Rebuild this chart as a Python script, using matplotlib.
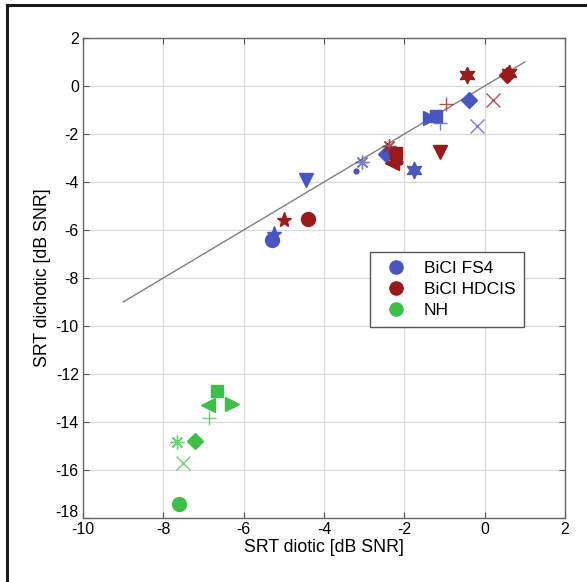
#!/usr/bin/env python3
"""SRT dichotic vs SRT diotic scatter for BiCI FS4, BiCI HDCIS and NH listeners."""

import matplotlib
matplotlib.use("Agg")
import matplotlib.pyplot as plt
import matplotlib.transforms as mtrans
from matplotlib.lines import Line2D

plt.rcParams["font.family"] = ["Liberation Sans", "DejaVu Sans"]
plt.rcParams["axes.unicode_minus"] = False

# --- data ---
fs4_x = [-5.3, -5.25, -4.45, -3.2, -3.05, -2.45, -1.77, -1.37, -1.2, -1.12, -0.4, -0.2]
fs4_y = [-6.4, -6.15, -3.9, -3.55, -3.15, -2.85, -3.5, -1.35, -1.25, -1.55, -0.6, -1.65]

hdcis_x = [-5.0, -4.4, -2.38, -2.2, -2.3, -2.1, -1.1, -0.95, -0.45, 0.2, 0.55, 0.6]
hdcis_y = [-5.6, -5.55, -2.5, -2.8, -3.2, -3.15, -2.75, -0.75, 0.45, -0.6, 0.45, 0.55]

nh_x = [-6.66, -6.88, -6.28, -6.86, -7.65, -7.2, -7.52, -7.6]
nh_y = [-12.7, -13.3, -13.25, -13.85, -14.85, -14.8, -15.7, -17.4]

groups = ["BiCI FS4", "BiCI HDCIS", "NH"]
x_ticks = [-10, -8, -6, -4, -2, 0, 2]
y_ticks = [2, 0, -2, -4, -6, -8, -10, -12, -14, -16, -18]

# --- styles ---
AST = (8, 2, 0)   # 8-armed asterisk like MATLAB '*'
HEX = (6, 1, 0)   # hexagram
fs4_markers = ["o", "*", "v", ".", AST, "D", HEX, ">", "s", "+", "D", "x"]
hdcis_markers = ["*", "o", AST, "s", "<", ".", "v", "+", HEX, "x", "D", HEX]
nh_markers = ["s", "<", ">", "+", AST, "D", "x", "o"]
colors = {"BiCI FS4": "#4a56c0", "BiCI HDCIS": "#9a1a1a", "NH": "#3fbf4a"}

fig = plt.figure(figsize=(5.87, 5.82), dpi=100)
ax = fig.add_axes([0.1414, 0.110, 0.8211, 0.8247])

ax.plot([-9, 1], [-9, 1], color="#808080", lw=1.0, zorder=2)

for name, xs, ys, ms in [("BiCI FS4", fs4_x, fs4_y, fs4_markers),
                         ("BiCI HDCIS", hdcis_x, hdcis_y, hdcis_markers),
                         ("NH", nh_x, nh_y, nh_markers)]:
    c = colors[name]
    for x, y, m in zip(xs, ys, ms):
        if m in ("+", "x", AST):
            ax.plot(x, y, marker=m, color=c, ms=10, mew=1.0, ls="none", alpha=0.75, zorder=3)
        elif m == ".":
            ax.plot(x, y, marker="o", color=c, ms=3.5, ls="none", zorder=3)
        else:
            size = {"o": 10, "D": 8.5, "s": 9, "*": 11, HEX: 12}.get(m, 10)
            ax.plot(x, y, marker=m, color=c, ms=size, ls="none", mec=c, zorder=3)

ax.set_xlim(-10, 2)
ax.set_ylim(-18, 2)
ax.set_xticks(x_ticks)
ax.set_yticks(y_ticks)
ax.grid(True, color="#d8d8d8", lw=0.9)
ax.set_axisbelow(True)
ax.tick_params(direction="in", top=True, right=True, length=4, labelsize=11.5,
               color="#555555", pad=3)
for s in ax.spines.values():
    s.set_color("#666666")
    s.set_linewidth(1.0)
ax.set_xlabel("SRT diotic [dB SNR]", fontsize=12.8, labelpad=1)
ax.set_ylabel("SRT dichotic [dB SNR]", fontsize=12.8, labelpad=3)

# MATLAB-style: the bottom y label sits a little above the corner
fig.canvas.draw()
lab = ax.get_yticklabels()[-1]
lab.set_transform(lab.get_transform() + mtrans.ScaledTranslation(0, 5 / 72, fig.dpi_scale_trans))

handles = [Line2D([], [], marker="o", ls="none", color=colors[g], ms=9.5) for g in groups]
leg = ax.legend(handles, groups, loc="upper left", bbox_to_anchor=(0.595, 0.554),
                borderaxespad=0, fontsize=12.5, fancybox=False, framealpha=1,
                handletextpad=0.6, borderpad=0.5, labelspacing=0.35)
leg.get_frame().set_edgecolor("#555555")
leg.get_frame().set_linewidth(1.0)

# outer frame (left and top edges visible)
fig.add_artist(Line2D([7 / 587, 7 / 587], [0, 1 - 5 / 582], transform=fig.transFigure,
                      color="#1a1a1a", lw=2.2))
fig.add_artist(Line2D([7 / 587, 1], [1 - 5 / 582, 1 - 5 / 582], transform=fig.transFigure,
                      color="#1a1a1a", lw=2.2))

fig.savefig("out.png", dpi=100)
